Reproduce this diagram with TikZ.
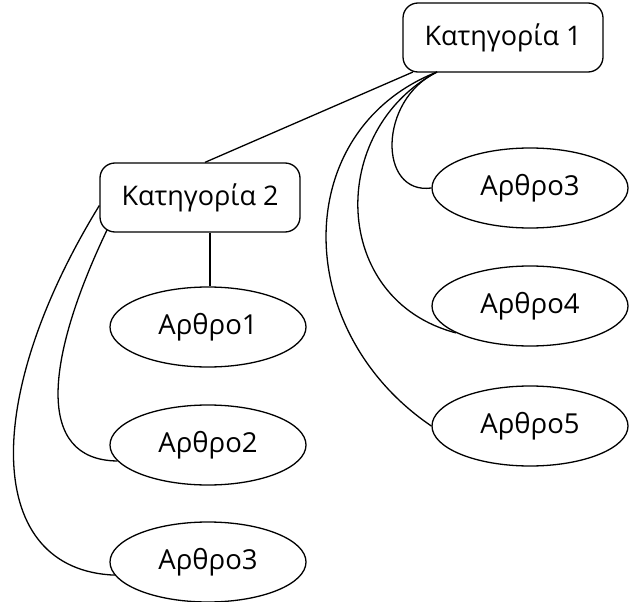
\documentclass[tikz,border=0pt]{standalone}
\usepackage{fontspec}
\setmainfont{Open Sans}
\usetikzlibrary{shapes.geometric}
\begin{document}
\begin{tikzpicture}[x=1pt,y=-1pt,line width=1.3pt,
  cat/.style={draw,rounded corners=15pt,minimum width=200pt,minimum height=69pt,inner sep=0pt,font=\fontsize{27}{32}\selectfont},
  art/.style={draw,ellipse,minimum width=196pt,minimum height=80pt,inner sep=0pt,font=\fontsize{27.5}{32}\selectfont}]
\useasboundingbox (0,0) rectangle (630,602);
\node[cat] (k1) at (503,37.5) {Κατηγορία 1};
\node[cat] (k2) at (200,197.5) {Κατηγορία 2};
\node[art] (a1) at (208,327) {Αρθρο1};
\node[art] (a2) at (208,445) {Αρθρο2};
\node[art] (a3) at (208,562) {Αρθρο3};
\node[art] (r3) at (530,188) {Αρθρο3};
\node[art] (r4) at (530,306) {Αρθρο4};
\node[art] (r5) at (530,426) {Αρθρο5};
\coordinate (k1b) at (437,72);
\draw (k2.north) ++(5,0) -- (413,72);
\draw (k2.south) ++(10,0) coordinate (k2v) -- (k2v |- a1.north);
\draw (k1b) .. controls (378,100) and (378,195) .. (r3.west);
\draw (k1b) .. controls (327,130) and (330,300) .. (r4.200);
\draw (k1b) .. controls (290,130) and (290,330) .. (r5.west);
\draw (k2.west) ++(0,8) .. controls (-20,400) and (-15,570) .. (a3.188);
\draw (107,230) .. controls (45,360) and (35,460) .. (a2.190);
\end{tikzpicture}
\end{document}
